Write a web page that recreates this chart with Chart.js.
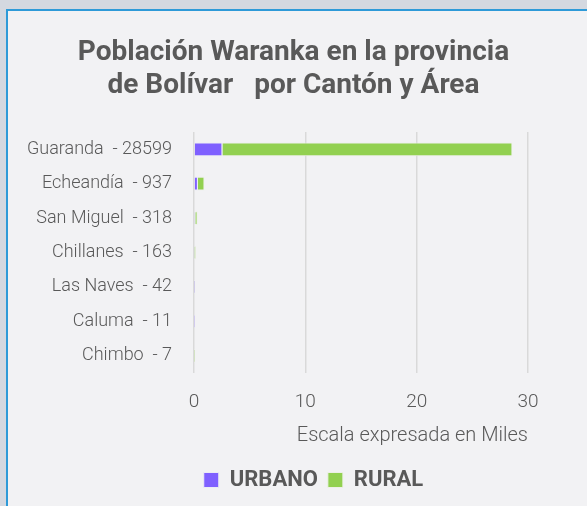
<!DOCTYPE html>
<html lang="es">
<head>
<meta charset="UTF-8">
<title>Población Waranka</title>
<script src="https://cdn.jsdelivr.net/npm/chart.js"></script>
<style>
  body { margin: 0; background: #d4d8e0; width: 587px; height: 506px; overflow: hidden; position: relative; }
  .panel { position: absolute; left: 6px; top: 9px; width: 620px; height: 540px; background: #f2f2f4; border: 2px solid #2e9ad8; }
  .graf { position: absolute; left: 0; top: 0; width: 587px; height: 506px; }
</style>
</head>
<body>
<div class="panel"></div>
<div class="graf"><canvas id="myChart"></canvas></div>
<script>
  // datos (miles de habitantes)
  const cantones = ['Guaranda', 'Echeandía', 'San Miguel', 'Chillanes', 'Las Naves', 'Caluma', 'Chimbo'];
  const totales = [28599, 937, 318, 163, 42, 11, 7];
  const urbano = [2.55, 0.35, 0.12, 0.05, 0.01, 0.011, 0];
  const rural = [26.05, 0.59, 0.2, 0.113, 0.032, 0, 0.007];
  const ticksX = [0, 10, 20, 30];

  let labels = [];
  for (let i = 0; i < cantones.length; i++) {
    labels.push(cantones[i] + '  - ' + totales[i]);
  }

  const gris = '#595959';

  // mueve la leyenda un poco a la derecha como en el original
  const moverLeyenda = {
    id: 'moverLeyenda',
    afterLayout(chart) {
      chart.legend.left += 20;
      chart.legend.right += 20;
    }
  };

  const config = {
    type: 'bar',
    data: {
      labels: labels,
      datasets: [{
        label: 'URBANO',
        data: urbano,
        backgroundColor: '#7f60ff',
        borderColor: '#ecebf5',
        borderWidth: 1,
        barPercentage: 0.4,
        categoryPercentage: 1
      }, {
        label: 'RURAL',
        data: rural,
        backgroundColor: '#92d050',
        borderColor: '#ecf0e6',
        borderWidth: 1,
        barPercentage: 0.4,
        categoryPercentage: 1
      }]
    },
    options: {
      indexAxis: 'y',
      responsive: true,
      maintainAspectRatio: false,
      animation: false,
      layout: { padding: { left: 0, right: 0, bottom: 5 } },
      plugins: {
        title: {
          display: true,
          text: ['Población Waranka en la provincia', 'de Bolívar   por Cantón y Área'],
          color: gris,
          font: { family: 'Roboto', size: 28, weight: 'bold', lineHeight: 1.18 },
          padding: { top: 36, bottom: 30 }
        },
        legend: {
          position: 'bottom',
          labels: {
            color: gris,
            boxWidth: 15,
            boxHeight: 15,
            font: { family: 'Roboto', size: 22, weight: 'bold' },
            padding: 10
          }
        },
        tooltip: { enabled: false }
      },
      scales: {
        x: {
          stacked: true,
          min: 0,
          max: 30,
          afterBuildTicks: function (axis) {
            axis.ticks = ticksX.map(v => ({ value: v }));
          },
          afterFit: function (axis) {
            axis.paddingRight = 59;
            axis.height = 86;
          },
          grid: { color: '#d9d9d9', lineWidth: 1.5, drawTicks: false },
          border: { display: false },
          ticks: { color: gris, padding: 18, font: { family: 'Roboto', size: 19, weight: '300' } },
          title: {
            display: true,
            text: 'Escala expresada en Miles',
            align: 'end',
            color: gris,
            font: { family: 'Roboto', size: 20, weight: '300' },
            padding: { top: 4, bottom: 11 }
          }
        },
        y: {
          stacked: true,
          afterFit: function (axis) {
            axis.width = 194;
          },
          grid: { display: false, drawTicks: false },
          border: { display: false },
          ticks: { color: gris, padding: 22, font: { family: 'Roboto', size: 18, weight: '300' } }
        }
      }
    },
    plugins: [moverLeyenda]
  };

  let myChart = new Chart(document.getElementById('myChart'), config);
</script>
</body>
</html>
